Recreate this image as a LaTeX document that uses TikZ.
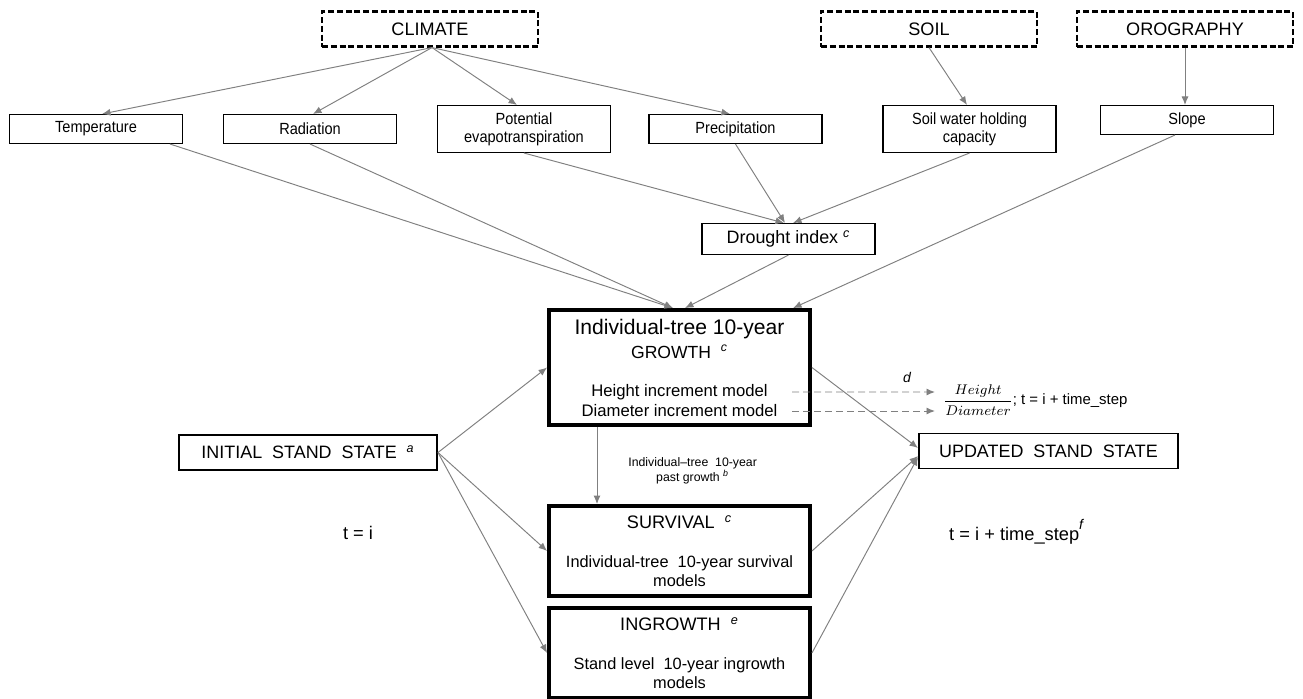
\documentclass[tikz,border=0pt]{standalone}
\usepackage{amsmath}
\usepackage{fontspec}
\setmainfont{Liberation Sans}
\newfontfamily\narrowsans[FakeStretch=0.9]{Liberation Sans}
\usepackage{tikz}
\usetikzlibrary{positioning, arrows.meta, shapes}
\definecolor{arrowgray}{HTML}{808080}
\tikzstyle{line} = [draw=arrowgray, line width=0.55pt, -{Latex[length=1.7mm, width=1.4mm]}]
\tikzstyle{dashline} = [line, dash pattern=on 1.4mm off 0.8mm]
\tikzstyle{factorbox} = [rectangle, draw, line width=1.2pt, dash pattern=on 1.2mm off 0.55mm,
    minimum width=4.32cm, minimum height=0.70cm, font=\fontsize{10.3}{12}\selectfont]
\tikzstyle{inputbox} = [rectangle, draw, line width=0.6pt, align=center,
    minimum width=3.46cm, minimum height=0.58cm, font=\narrowsans\fontsize{9.2}{10.2}\selectfont]
\tikzstyle{inputtall} = [inputbox, minimum height=0.94cm]
\tikzstyle{standstate} = [rectangle, draw, line width=1.1pt,
    minimum width=5.16cm, minimum height=0.70cm, font=\fontsize{10.2}{12}\selectfont]
\tikzstyle{submodel} = [rectangle, draw, line width=2.2pt, align=center,
    minimum width=5.22cm, font=\fontsize{9.3}{10.8}\selectfont]
\newcommand{\supit}[1]{\textsuperscript{\textit{#1}}}

\begin{document}
\begin{tikzpicture}
            \useasboundingbox (0,0) rectangle (26.06,-13.96);

            % driving factors
            \node[factorbox] (climate) at (8.6,-0.58) {CLIMATE};
            \node[factorbox, right of=climate, node distance=9.98cm] (soil) {SOIL};
            \node[factorbox, right of=soil, node distance=5.12cm] (orography) {OROGRAPHY};

            % model inputs
            \node[inputbox] (temp) at (1.92,-2.58) {Temperature};
            \node[inputbox, right of=temp, node distance=4.28cm] (rad) {Radiation};
            \node[inputtall, right of=rad, node distance=4.28cm] (pet) {Potential\\evapotranspiration};
            \node[inputbox, right of=pet, node distance=4.23cm] (prec) {Precipitation};
            \node[inputtall, right of=prec, node distance=4.68cm] (swhc) {Soil water holding\\capacity};
            \node[inputbox, right of=swhc, node distance=4.35cm, yshift=0.18cm] (slope) {Slope};
            \node[inputbox, minimum height=0.62cm, font=\fontsize{10.2}{12}\selectfont] (drought) at (15.77,-4.78) {Drought index \supit{c}};

            % stand states
            \node[standstate] (initial) at (6.16,-9.05) {INITIAL\ \ STAND\ \ STATE\ \ \supit{a}};
            \node[standstate, minimum width=5.18cm] (updated) at (20.97,-9.02) {UPDATED\ \ STAND\ \ STATE};

            % sub-models
            \node[submodel, minimum height=2.30cm, font=\fontsize{9.5}{11.4}\selectfont] (growth) at (13.59,-7.35)
                {{\fontsize{12}{14}\selectfont Individual-tree 10-year}\\[2.3pt]
                 {\fontsize{10}{12}\selectfont GROWTH\ \ \supit{c}}\\[10.2pt]
                 Height increment model\\Diameter increment model};
            \node[submodel, minimum height=1.80cm, below of=growth, node distance=3.67cm] (survival)
                {{\fontsize{10.3}{12}\selectfont SURVIVAL\ \ \supit{c}}\\[11.4pt]
                 Individual-tree\ \ 10-year survival\\models};
            \node[submodel, minimum height=1.80cm, below of=survival, node distance=2.04cm] (ingrowth)
                {{\fontsize{10.3}{12}\selectfont INGROWTH\ \ \supit{e}}\\[11.4pt]
                 Stand level\ \ 10-year ingrowth\\models};

            % time labels
            \node[font=\fontsize{10.4}{12}\selectfont] (tstart) at (7.16,-10.66) {t = i};
            \node[font=\fontsize{10.4}{12}\selectfont, anchor=west] (tend) at (18.86,-10.64)
                {t = i + time\_step\raisebox{2.2mm}{\fontsize{8}{9}\selectfont\textit{f}}};
            \node[inner sep=0pt, anchor=west, font=\fontsize{8.5}{10}\selectfont] (ratio) at (18.86,-8.0)
                {$\dfrac{Height}{Diameter}$; t = i + time\_step};
            \node[font=\fontsize{8}{9}\selectfont\itshape] (dlab) at (18.14,-7.54) {d};
            \coordinate (hstart) at (15.84,-7.84);
            \coordinate (dstart) at (15.84,-8.22);

            % climate, soil and orography inputs
            \path [line] ([xshift=0.04cm]climate.south) -- ([xshift=0.12cm]temp.north);
            \path [line] ([xshift=0.04cm]climate.south) -- ([xshift=0.06cm]rad.north);
            \path [line] ([xshift=0.04cm]climate.south) -- ([xshift=-0.14cm]pet.north);
            \path [line] ([xshift=0.04cm]climate.south) -- ([xshift=-0.11cm]prec.north);
            \path [line] (soil.south) -- ([xshift=-0.05cm]swhc.north);
            \path [line] (orography.south) -- (orography.south |- slope.north);

            % drought index
            \path [line] (pet.south) -- ([xshift=-0.09cm]drought.north);
            \path [line] (prec.south) -- ([xshift=-0.07cm]drought.north);
            \path [line] (swhc.south) -- ([xshift=0.09cm]drought.north);

            % inputs to growth
            \path [line] ([xshift=-0.26cm]temp.south east) -- ([xshift=-0.13cm]growth.north);
            \path [line] (rad.south) -- ([xshift=-0.13cm]growth.north);
            \path [line] (drought.south) -- ([xshift=0.11cm]growth.north);
            \path [line] ([xshift=-0.24cm]slope.south) -- ([xshift=2.27cm]growth.north);

            % stand dynamics
            \path [line] (initial.east) -- (growth.west);
            \path [line] (initial.east) -- (survival.west);
            \path [line] (initial.east) -- (ingrowth.west);
            \path [line] ([xshift=-1.65cm]growth.south) -- ([xshift=-1.65cm]survival.north)
                node[pos=0.57, right=0.5cm, align=center, text=black, font=\fontsize{7}{8.4}\selectfont] (pastgrowth)
                {Individual--tree\ \ 10-year\\past growth \supit{b}};
            \path [line] (growth.east) -- ([yshift=0.06cm]updated.west);
            \path [line] (survival.east) -- ([yshift=-0.1cm]updated.west);
            \path [line] (ingrowth.east) -- ([yshift=-0.12cm]updated.west);

            \path [dashline] (hstart) -- ([xshift=-0.16cm, yshift=0.16cm]ratio.west);
            \path [dashline] (dstart) -- ([xshift=-0.16cm, yshift=-0.22cm]ratio.west);
\end{tikzpicture}
\end{document}
